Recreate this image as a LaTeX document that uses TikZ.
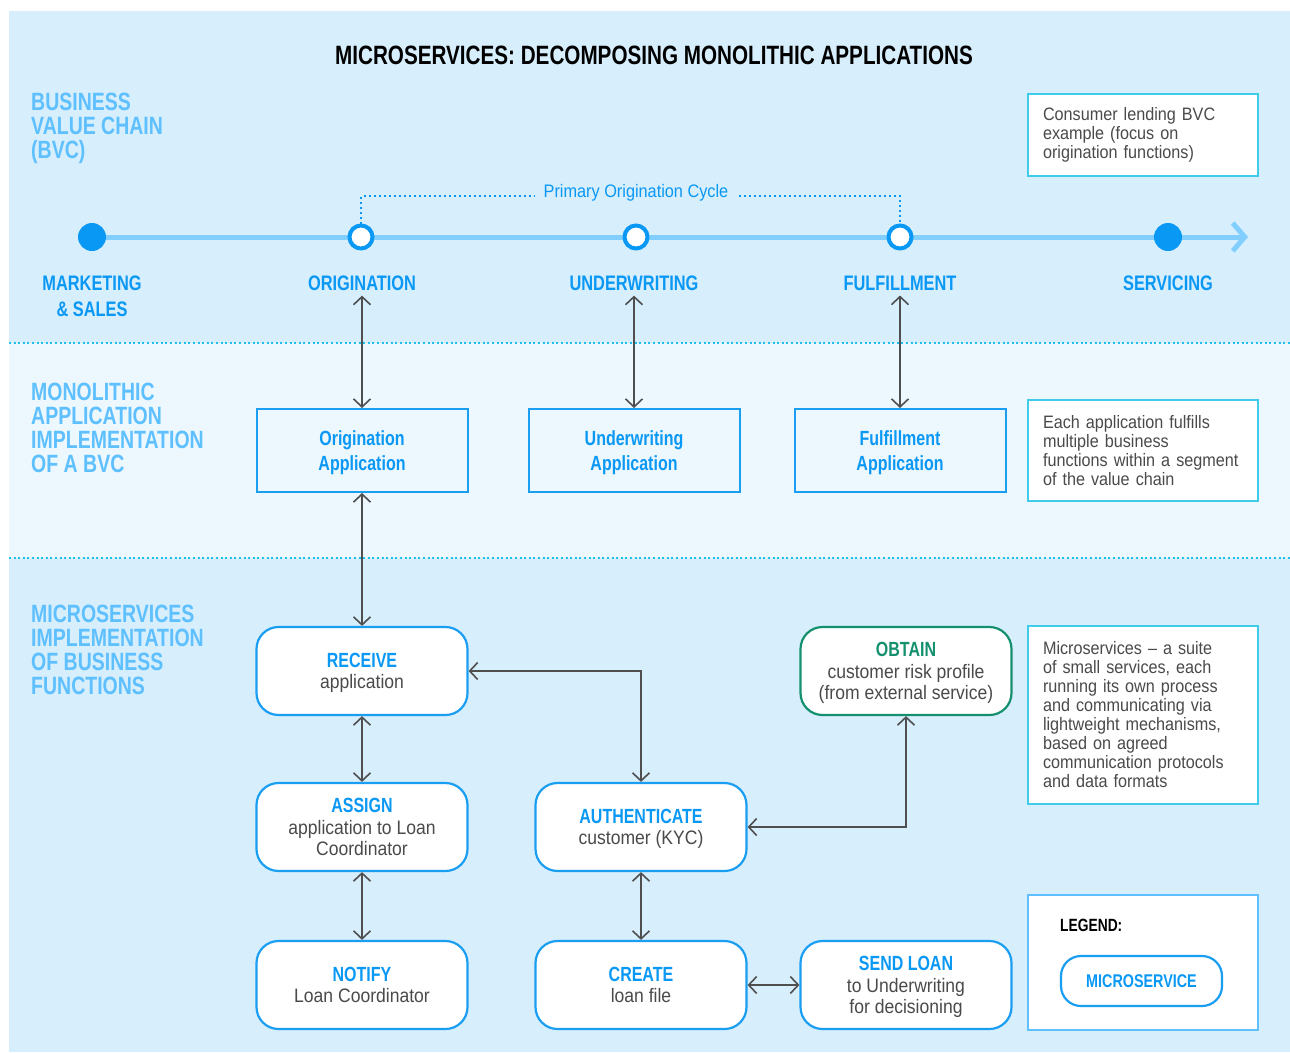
\documentclass[tikz,border=0pt]{standalone}
\usepackage{fontspec}
\setmainfont{Liberation Sans}[FakeStretch=0.9]
\newfontfamily\condfont{Liberation Sans}[FakeStretch=0.78]
\usetikzlibrary{arrows.meta,backgrounds}
\definecolor{bgblue}{HTML}{D7EEFC}
\definecolor{bandblue}{HTML}{EDF7FE}
\definecolor{sepcyan}{HTML}{1EC0EA}
\definecolor{lblblue}{HTML}{5EC0FF}
\definecolor{stageblue}{HTML}{0A98F5}
\definecolor{lineblue}{HTML}{82CEFF}
\definecolor{boxblue}{HTML}{1A9EF2}
\definecolor{notecyan}{HTML}{3FCBEA}
\definecolor{obtaingreen}{HTML}{14906E}
\definecolor{linkgray}{HTML}{4F4F4F}
\definecolor{textgray}{HTML}{4A4A4A}
\newcommand{\hd}{\condfont\bfseries}
\newcommand{\mstitle}[1]{{\color{stageblue}\hd\fontsize{20.5}{21.5}\selectfont #1}}

\begin{document}
\begin{tikzpicture}[x=1pt, y=-1pt,
    sectionlbl/.style={anchor=west, align=left, text=lblblue, inner sep=0pt,
      font=\hd\fontsize{25}{24}\selectfont},
    stagelbl/.style={text=stageblue, align=center, inner sep=5pt,
      font=\hd\fontsize{21}{26}\selectfont},
    opendot/.style={circle, draw=stageblue, line width=4pt, fill=white,
      minimum size=23pt, inner sep=0pt},
    fulldot/.style={circle, fill=stageblue, minimum size=28pt, inner sep=0pt},
    monobox/.style={draw=boxblue, line width=2pt, fill=bandblue, align=center,
      minimum width=211pt, minimum height=83pt, text=stageblue, text depth=0pt,
      font=\hd\fontsize{20.5}{25}\selectfont},
    msbox/.style={draw=boxblue, line width=2.2pt, fill=white, rounded corners=22pt,
      minimum width=211pt, minimum height=88pt, align=center, text=textgray,
      text depth=0pt, font=\fontsize{19.5}{21.5}\selectfont},
    notebox/.style={draw=notecyan, line width=1.5pt, fill=white, text width=200pt,
      inner xsep=15pt, align=left, text=textgray,
      font=\fontsize{18}{19}\selectfont},
    link/.style={draw=linkgray, line width=1.6pt,
      {Straight Barb[length=8pt,width=17pt]}-{Straight Barb[length=8pt,width=17pt]}},
    sepline/.style={draw=sepcyan, line width=2pt, dash pattern=on 2pt off 2.6pt},
    cycleline/.style={draw=stageblue, line width=2pt, dash pattern=on 2pt off 3pt}]
  \useasboundingbox (0,0) rectangle (1290,1052);

  \node[font=\hd\fontsize{26.5}{30}\selectfont] (title) at (654,55)
    {MICROSERVICES: DECOMPOSING MONOLITHIC APPLICATIONS};

  % row labels
  \node[sectionlbl] (bvclbl) at (31,128) {BUSINESS\\VALUE CHAIN\\(BVC)};
  \node[sectionlbl] (monolbl) at (31,428) {MONOLITHIC\\APPLICATION\\IMPLEMENTATION\\OF A BVC};
  \node[sectionlbl] (mslbl) at (31,650) {MICROSERVICES\\IMPLEMENTATION\\OF BUSINESS\\FUNCTIONS};

  % value chain
  \node[fulldot] (mkt) at (92,237) {};
  \node[opendot] (orig) at (361,237) {};
  \node[opendot] (uw) at (636,237) {};
  \node[opendot] (fulf) at (900,237) {};
  \node[fulldot] (serv) at (1168,237) {};
  \coordinate (tlend) at (1248,237);

  \draw[cycleline] (orig.north) -- ++(0,-27.5) -| (fulf.north);
  \node[fill=bgblue, text=stageblue, inner xsep=9pt, font=\fontsize{18.1}{20}\selectfont]
    (cyclelbl) at (636,193) {Primary Origination Cycle};

  \node[stagelbl] (mktlbl) at (92,296) {MARKETING\\\& SALES};
  \node[stagelbl] (origlbl) at (362,283) {ORIGINATION};
  \node[stagelbl] (uwlbl) at (634,283) {UNDERWRITING};
  \node[stagelbl] (fulflbl) at (900,283) {FULFILLMENT};
  \node[stagelbl] (servlbl) at (1168,283) {SERVICING};

  \node[notebox, minimum height=82pt] (note1) at (1143,135)
    {Consumer lending BVC\\example (focus on\\origination functions)};

  % monolithic applications
  \node[monobox] (origapp) at (362,450.5) {Origination\\Application};
  \node[monobox] (uwapp) at (634,450.5) {Underwriting\\Application};
  \node[monobox] (fulfapp) at (900,450.5) {Fulfillment\\Application};

  \node[notebox, minimum height=101pt] (note2) at (1143,450.5)
    {Each application fulfills\\multiple business\\functions within a segment\\of the value chain};

  % microservices
  \node[msbox] (receive) at (362,671) {\mstitle{RECEIVE}\\application};
  \node[msbox] (assign) at (362,827) {\mstitle{ASSIGN}\\application to Loan\\Coordinator};
  \node[msbox] (notify) at (362,985) {\mstitle{NOTIFY}\\Loan Coordinator};
  \node[msbox] (auth) at (641,827) {\mstitle{AUTHENTICATE}\\customer (KYC)};
  \node[msbox] (create) at (641,985) {\mstitle{CREATE}\\loan file};
  \node[msbox] (sendloan) at (906,985) {\mstitle{SEND LOAN}\\to Underwriting\\for decisioning};
  \node[msbox, draw=obtaingreen] (obtain) at (906,671)
    {{\color{obtaingreen}\hd\fontsize{20.5}{21.5}\selectfont OBTAIN}\\customer risk profile\\(from external service)};

  \node[notebox, minimum height=178pt] (note3) at (1143,715)
    {Microservices – a suite\\of small services, each\\running its own process\\and communicating via\\lightweight mechanisms,\\based on agreed\\communication protocols\\and data formats};

  % legend
  \node[draw=lblblue, line width=1.5pt, fill=white, minimum width=230pt, minimum height=135pt]
    (legend) at (1143,962.5) {};
  \node[anchor=west, inner sep=0pt, font=\hd\fontsize{17.7}{20}\selectfont] (legendlbl)
    at (1060,925) {LEGEND:};
  \node[msbox, minimum width=161pt, minimum height=50pt, rounded corners=20pt, text=stageblue,
    font=\hd\fontsize{18.4}{20}\selectfont] (legendms) at (1141.5,981) {MICROSERVICE};

  % connectors
  \draw[link] (origlbl) -- (origapp);
  \draw[link] (uwlbl) -- (uwapp);
  \draw[link] (fulflbl) -- (fulfapp);
  \draw[link] (origapp) -- (receive);
  \draw[link] (receive) -- (assign);
  \draw[link] (assign) -- (notify);
  \draw[link] (receive.east) -| (auth.north);
  \draw[link] (auth.east) -| (obtain.south);
  \draw[link] (auth) -- (create);
  \draw[link] (create) -- (sendloan);

  \begin{scope}[on background layer]
    \fill[bgblue] (9,11) rectangle (1290,1052);
    \fill[bandblue] (9,343) rectangle (1290,558);
    \draw[sepline] (9,343) -- (1290,343);
    \draw[sepline] (9,558) -- (1290,558);
    \draw[lineblue, line width=5pt, -{Straight Barb[length=12pt,width=28pt]}] (mkt.center) -- (tlend);
  \end{scope}
\end{tikzpicture}
\end{document}
